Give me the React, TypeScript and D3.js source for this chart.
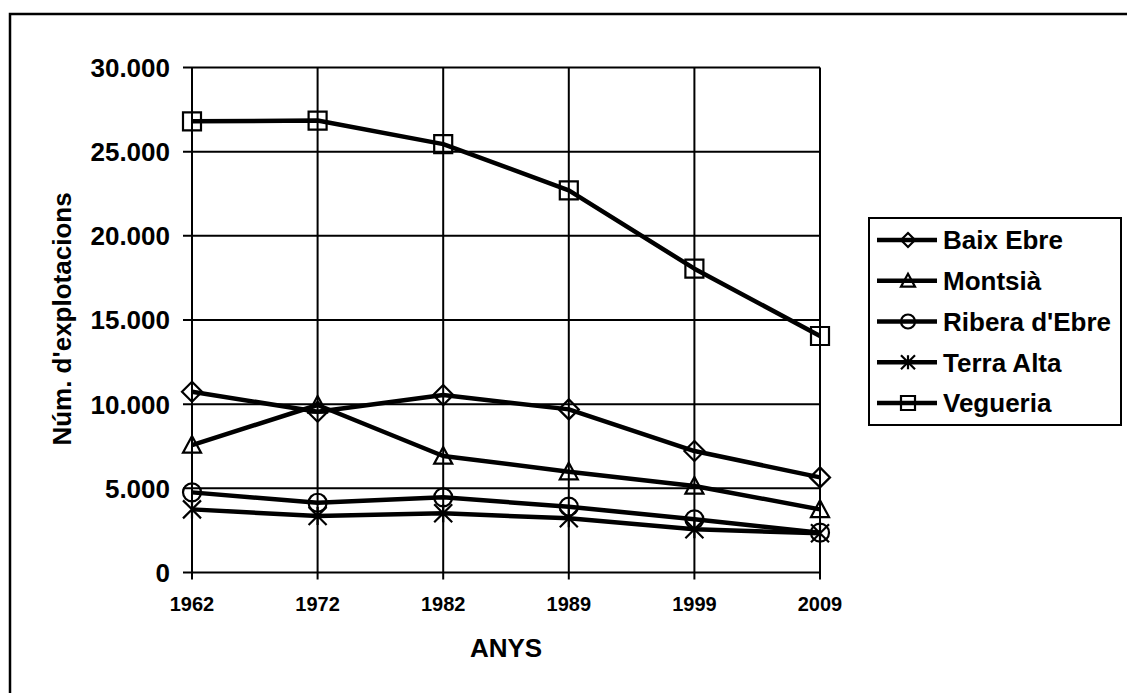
import React, { useEffect, useRef } from 'react';
import * as d3 from 'd3';

const years = ['1962', '1972', '1982', '1989', '1999', '2009'];
const baixEbre = [10740, 9550, 10540, 9690, 7215, 5650];
const montsia = [7570, 9950, 6920, 5990, 5140, 3750];
const ribera = [4760, 4145, 4465, 3910, 3160, 2365];
const terraAlta = [3750, 3355, 3515, 3220, 2565, 2330];
const vegueria = [26800, 26850, 25450, 22700, 18050, 14050];
const yTicks = [0, 5000, 10000, 15000, 20000, 25000, 30000];

type Marker = 'diamond' | 'triangle' | 'circle' | 'star' | 'square';

const seriesList: { name: string; values: number[]; marker: Marker }[] = [
  { name: 'Baix Ebre', values: baixEbre, marker: 'diamond' },
  { name: 'Montsià', values: montsia, marker: 'triangle' },
  { name: "Ribera d'Ebre", values: ribera, marker: 'circle' },
  { name: 'Terra Alta', values: terraAlta, marker: 'star' },
  { name: 'Vegueria', values: vegueria, marker: 'square' },
];

const FONT = "'Liberation Sans', Arial, sans-serif";

// marker outline centred on 0,0, s = full size
function markerPath(type: Marker, s: number): string {
  const h = s / 2;
  switch (type) {
    case 'diamond':
      return `M0,${-h}L${h},0L0,${h}L${-h},0Z`;
    case 'triangle':
      return `M0,${-h}L${h},${h * 0.85}L${-h},${h * 0.85}Z`;
    case 'circle':
      return `M${h},0A${h},${h} 0 1,1 ${-h},0A${h},${h} 0 1,1 ${h},0Z`;
    case 'star':
      return `M${-h},${-h}L${h},${h}M${h},${-h}L${-h},${h}M0,${-h}L0,${h}`;
    case 'square':
      return `M${-h},${-h}H${h}V${h}H${-h}Z`;
  }
}

const App: React.FC = () => {
  const svgRef = useRef<SVGSVGElement>(null);

  useEffect(() => {
    if (!svgRef.current) return;
    const svg = d3.select(svgRef.current);
    svg.selectAll('*').remove();

    const x = d3.scalePoint<string>().domain(years).range([192, 820]);
    const y = d3.scaleLinear().domain([0, 30000]).range([572.5, 67.5]);

    // outer frame (runs off the right / bottom edge)
    svg.append('rect')
      .attr('x', 10).attr('y', 14)
      .attr('width', 1300).attr('height', 900)
      .attr('fill', 'none').attr('stroke', '#000').attr('stroke-width', 2.5);

    // grid
    const grid = svg.append('g').attr('stroke', '#000').attr('stroke-width', 2);
    grid.selectAll('.h').data(yTicks).join('line')
      .attr('x1', 183).attr('x2', 820)
      .attr('y1', d => y(d)).attr('y2', d => y(d));
    grid.selectAll('.v').data(years).join('line')
      .attr('x1', d => x(d)!).attr('x2', d => x(d)!)
      .attr('y1', 67.5).attr('y2', 579.5);

    // y tick labels
    svg.append('g').selectAll('text').data(yTicks).join('text')
      .attr('x', 170).attr('y', d => y(d))
      .attr('dy', '0.36em')
      .attr('text-anchor', 'end')
      .style('font-family', FONT).style('font-weight', 'bold').style('font-size', '26px')
      .text(d => d3.format(',')(d).replace(/,/g, '.'));

    // x tick labels
    svg.append('g').selectAll('text').data(years).join('text')
      .attr('x', d => x(d)!).attr('y', 611)
      .attr('text-anchor', 'middle')
      .style('font-family', FONT).style('font-weight', 'bold').style('font-size', '20px')
      .text(d => d);

    svg.append('text')
      .attr('x', 506).attr('y', 657)
      .attr('text-anchor', 'middle')
      .style('font-family', FONT).style('font-weight', 'bold').style('font-size', '26px')
      .text('ANYS');

    svg.append('text')
      .attr('transform', 'translate(71,319) rotate(-90)')
      .attr('text-anchor', 'middle')
      .style('font-family', FONT).style('font-weight', 'bold').style('font-size', '26px')
      .text("Núm. d'explotacions");

    const line = d3.line<number>()
      .x((_, i) => x(years[i])!)
      .y(d => y(d));

    seriesList.forEach(s => {
      const g = svg.append('g');
      g.selectAll('path.m').data(s.values).join('path')
        .attr('transform', (d, i) => `translate(${x(years[i])},${y(d)})`)
        .attr('d', markerPath(s.marker, s.marker === 'diamond' ? 20 : 18))
        .attr('fill', 'none').attr('stroke', '#000').attr('stroke-width', 2.2);
      g.append('path')
        .attr('d', line(s.values))
        .attr('fill', 'none').attr('stroke', '#000')
        .attr('stroke-width', 4.5).attr('stroke-linejoin', 'round');
    });

    // legend
    const leg = svg.append('g');
    leg.append('rect')
      .attr('x', 869).attr('y', 218).attr('width', 252).attr('height', 207)
      .attr('fill', '#fff').attr('stroke', '#000').attr('stroke-width', 2);
    const rows = leg.selectAll('g.row').data(seriesList).join('g')
      .attr('transform', (_, i) => `translate(0,${240 + i * 40.75})`);
    rows.append('line')
      .attr('x1', 877).attr('x2', 937).attr('y1', 0).attr('y2', 0)
      .attr('stroke', '#000').attr('stroke-width', 4.5);
    rows.append('path')
      .attr('transform', 'translate(908,0)')
      .attr('d', d => markerPath(d.marker, 14))
      .attr('fill', 'none').attr('stroke', '#000').attr('stroke-width', 2.2);
    rows.append('text')
      .attr('x', 943).attr('y', 0).attr('dy', '0.36em')
      .style('font-family', FONT).style('font-weight', 'bold').style('font-size', '26px')
      .text(d => d.name);
  }, []);

  return (
    <div style={{ position: 'fixed', left: 0, top: 0, background: '#fff' }}>
      <svg ref={svgRef} width={1127} height={693} style={{ display: 'block' }} />
    </div>
  );
};

export default App;
